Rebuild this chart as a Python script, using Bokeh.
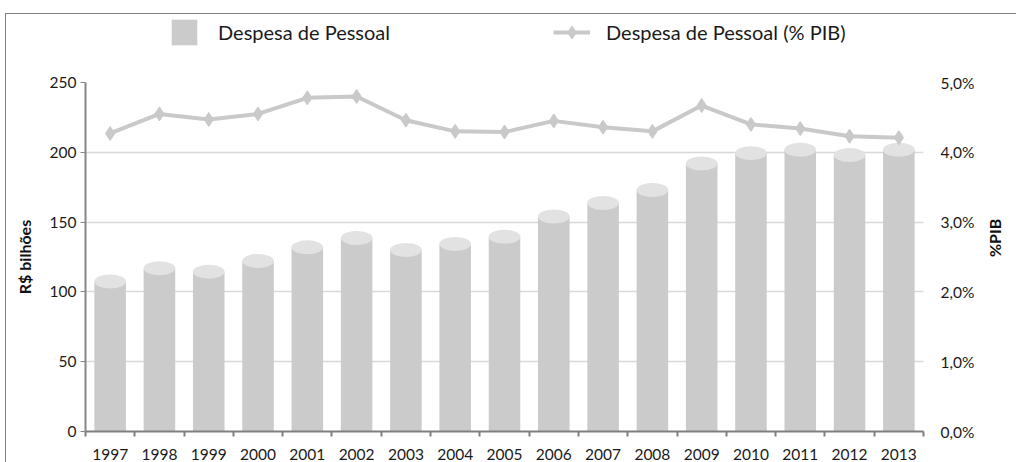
import math
from bokeh.plotting import figure
from bokeh.layouts import column
from bokeh.models import (Range1d, LinearAxis, FixedTicker, Legend, LegendItem,
                          ColumnDataSource)
from bokeh.embed import file_html
from bokeh.resources import INLINE

years = ["1997", "1998", "1999", "2000", "2001", "2002", "2003", "2004", "2005",
         "2006", "2007", "2008", "2009", "2010", "2011", "2012", "2013"]
despesa = [107.5, 116.9, 114.5, 122.1, 131.9, 138.6, 130.0, 134.3, 139.5,
           154.0, 163.7, 173.0, 192.0, 199.4, 201.8, 198.1, 201.8]
pct_pib = [4.27, 4.55, 4.47, 4.55, 4.78, 4.80, 4.46, 4.30, 4.29,
           4.45, 4.36, 4.30, 4.67, 4.40, 4.34, 4.23, 4.21]
y_ticks = [0, 50, 100, 150, 200, 250]
pct_ticks = [0, 1, 2, 3, 4, 5]
pct_labels = ["0,0%", "1,0%", "2,0%", "3,0%", "4,0%", "5,0%"]
series_names = ["Despesa de Pessoal", "Despesa de Pessoal (% PIB)"]

FONT = "Lato"
BAR = "#cbcbcb"
TOP = "#e2e2e2"
LINE = "#c9c9c9"
W = 1010
BL, BR = 79, 89

n = len(years)
xc = [i + 0.5 for i in range(n)]
src = ColumnDataSource(dict(x=xc, year=years, v=despesa, pct=pct_pib))

# ---------------- main chart ----------------
p = figure(width=W, height=404, output_backend="svg", toolbar_location=None,
           x_range=Range1d(0, n), y_range=Range1d(0, 250),
           min_border_left=BL, min_border_right=BR, min_border_top=24,
           min_border_bottom=30)
p.outline_line_color = None
p.background_fill_color = "white"
p.border_fill_color = "white"
p.extra_y_ranges = {"pct": Range1d(0, 5)}

p.vbar(x="x", top="v", bottom=0, width=0.64, source=src,
       fill_color=BAR, line_color=None)
p.ellipse(x="x", y="v", width=0.64, height=14, height_units="screen", source=src,
          fill_color=TOP, line_color=None)

p.line(x="x", y="pct", y_range_name="pct", source=src, line_color=LINE, line_width=4)
p.scatter(x="x", y="pct", y_range_name="pct", source=src, marker="diamond",
          size=14, fill_color=LINE, line_color=LINE)

p.xgrid.visible = False
p.ygrid.ticker = FixedTicker(ticks=y_ticks)
p.ygrid.grid_line_color = "#d9d9d9"
p.ygrid.grid_line_width = 1.5

ya = p.yaxis[0]
ya.ticker = FixedTicker(ticks=y_ticks)
ya.axis_line_color = "#868686"
ya.axis_line_width = 2
ya.major_tick_line_color = "#868686"
ya.major_tick_out = 5
ya.major_tick_in = 0
ya.minor_tick_line_color = None
ya.major_label_standoff = 4
ya.major_label_text_font = FONT
ya.major_label_text_font_size = "15.5px"
ya.major_label_text_color = "#1a1a1a"
ya.axis_label = "R$ bilhões"
ya.axis_label_text_font = FONT
ya.axis_label_text_font_size = "16px"
ya.axis_label_text_font_style = "bold"
ya.axis_label_text_color = "#111111"
ya.axis_label_standoff = 13

xa = p.xaxis[0]
xa.ticker = FixedTicker(ticks=xc, minor_ticks=list(range(n + 1)))
xa.major_label_overrides = {c: y for c, y in zip(xc, years)}
xa.axis_line_color = "#7f7f7f"
xa.axis_line_width = 2
xa.major_tick_line_color = None
xa.minor_tick_line_color = "#7f7f7f"
xa.minor_tick_line_width = 2
xa.minor_tick_out = 5
xa.minor_tick_in = 0
xa.major_label_standoff = 11
xa.major_label_text_font = FONT
xa.major_label_text_font_size = "15.5px"
xa.major_label_text_color = "#1a1a1a"

ra = LinearAxis(y_range_name="pct", ticker=FixedTicker(ticks=pct_ticks))
ra.major_label_overrides = {t: l for t, l in zip(pct_ticks, pct_labels)}
ra.axis_line_color = None
ra.major_tick_line_color = None
ra.minor_tick_line_color = None
ra.major_label_standoff = 11
ra.major_label_text_font = FONT
ra.major_label_text_font_size = "15.5px"
ra.major_label_text_color = "#1a1a1a"
ra.axis_label = "%PIB"
ra.axis_label_text_font = FONT
ra.axis_label_text_font_size = "16px"
ra.axis_label_text_font_style = "bold"
ra.axis_label_text_color = "#111111"
ra.axis_label_standoff = 17
ra.axis_label_orientation = math.pi / 2
p.add_layout(ra, "right")

# ---------------- legend strip ----------------
lf = figure(width=W, height=44, output_backend="svg", toolbar_location=None,
            x_range=Range1d(0, 1), y_range=Range1d(0, 1),
            x_axis_type=None, y_axis_type=None,
            min_border_left=BL, min_border_right=BR, min_border_top=0, min_border_bottom=0)
lf.outline_line_color = None
lf.grid.visible = False
lf.background_fill_color = "white"
lf.border_fill_color = "white"
d_bar = lf.vbar(x=[-100], top=[-100], width=1, fill_color=BAR, line_color=None)
d_line = lf.line(x=[-100, -90], y=[-100, -100], line_color=LINE, line_width=4)
d_mk = lf.scatter(x=[-100], y=[-100], marker="diamond", size=13,
                  fill_color=LINE, line_color=LINE)

for items, loc, gw, so in [([LegendItem(label=series_names[0], renderers=[d_bar])], (83, 10), 32, 18),
                           ([LegendItem(label=series_names[1], renderers=[d_line, d_mk])], (468, 10), 37, 16)]:
    lg = Legend(items=items, location=loc, glyph_width=gw, glyph_height=32,
                label_standoff=so, padding=0, margin=0, border_line_color=None,
                background_fill_alpha=0, label_text_font=FONT,
                label_text_font_size="20px", label_text_color="#1a1a1a")
    lf.add_layout(lg, "center")

layout = column(lf, p, spacing=0,
                styles={"border-top": "1px solid #7f7f7f",
                        "border-left": "1px solid #7f7f7f",
                        "margin-top": "13px", "margin-left": "5px"})

open("out.html", "w").write(file_html(layout, INLINE))
